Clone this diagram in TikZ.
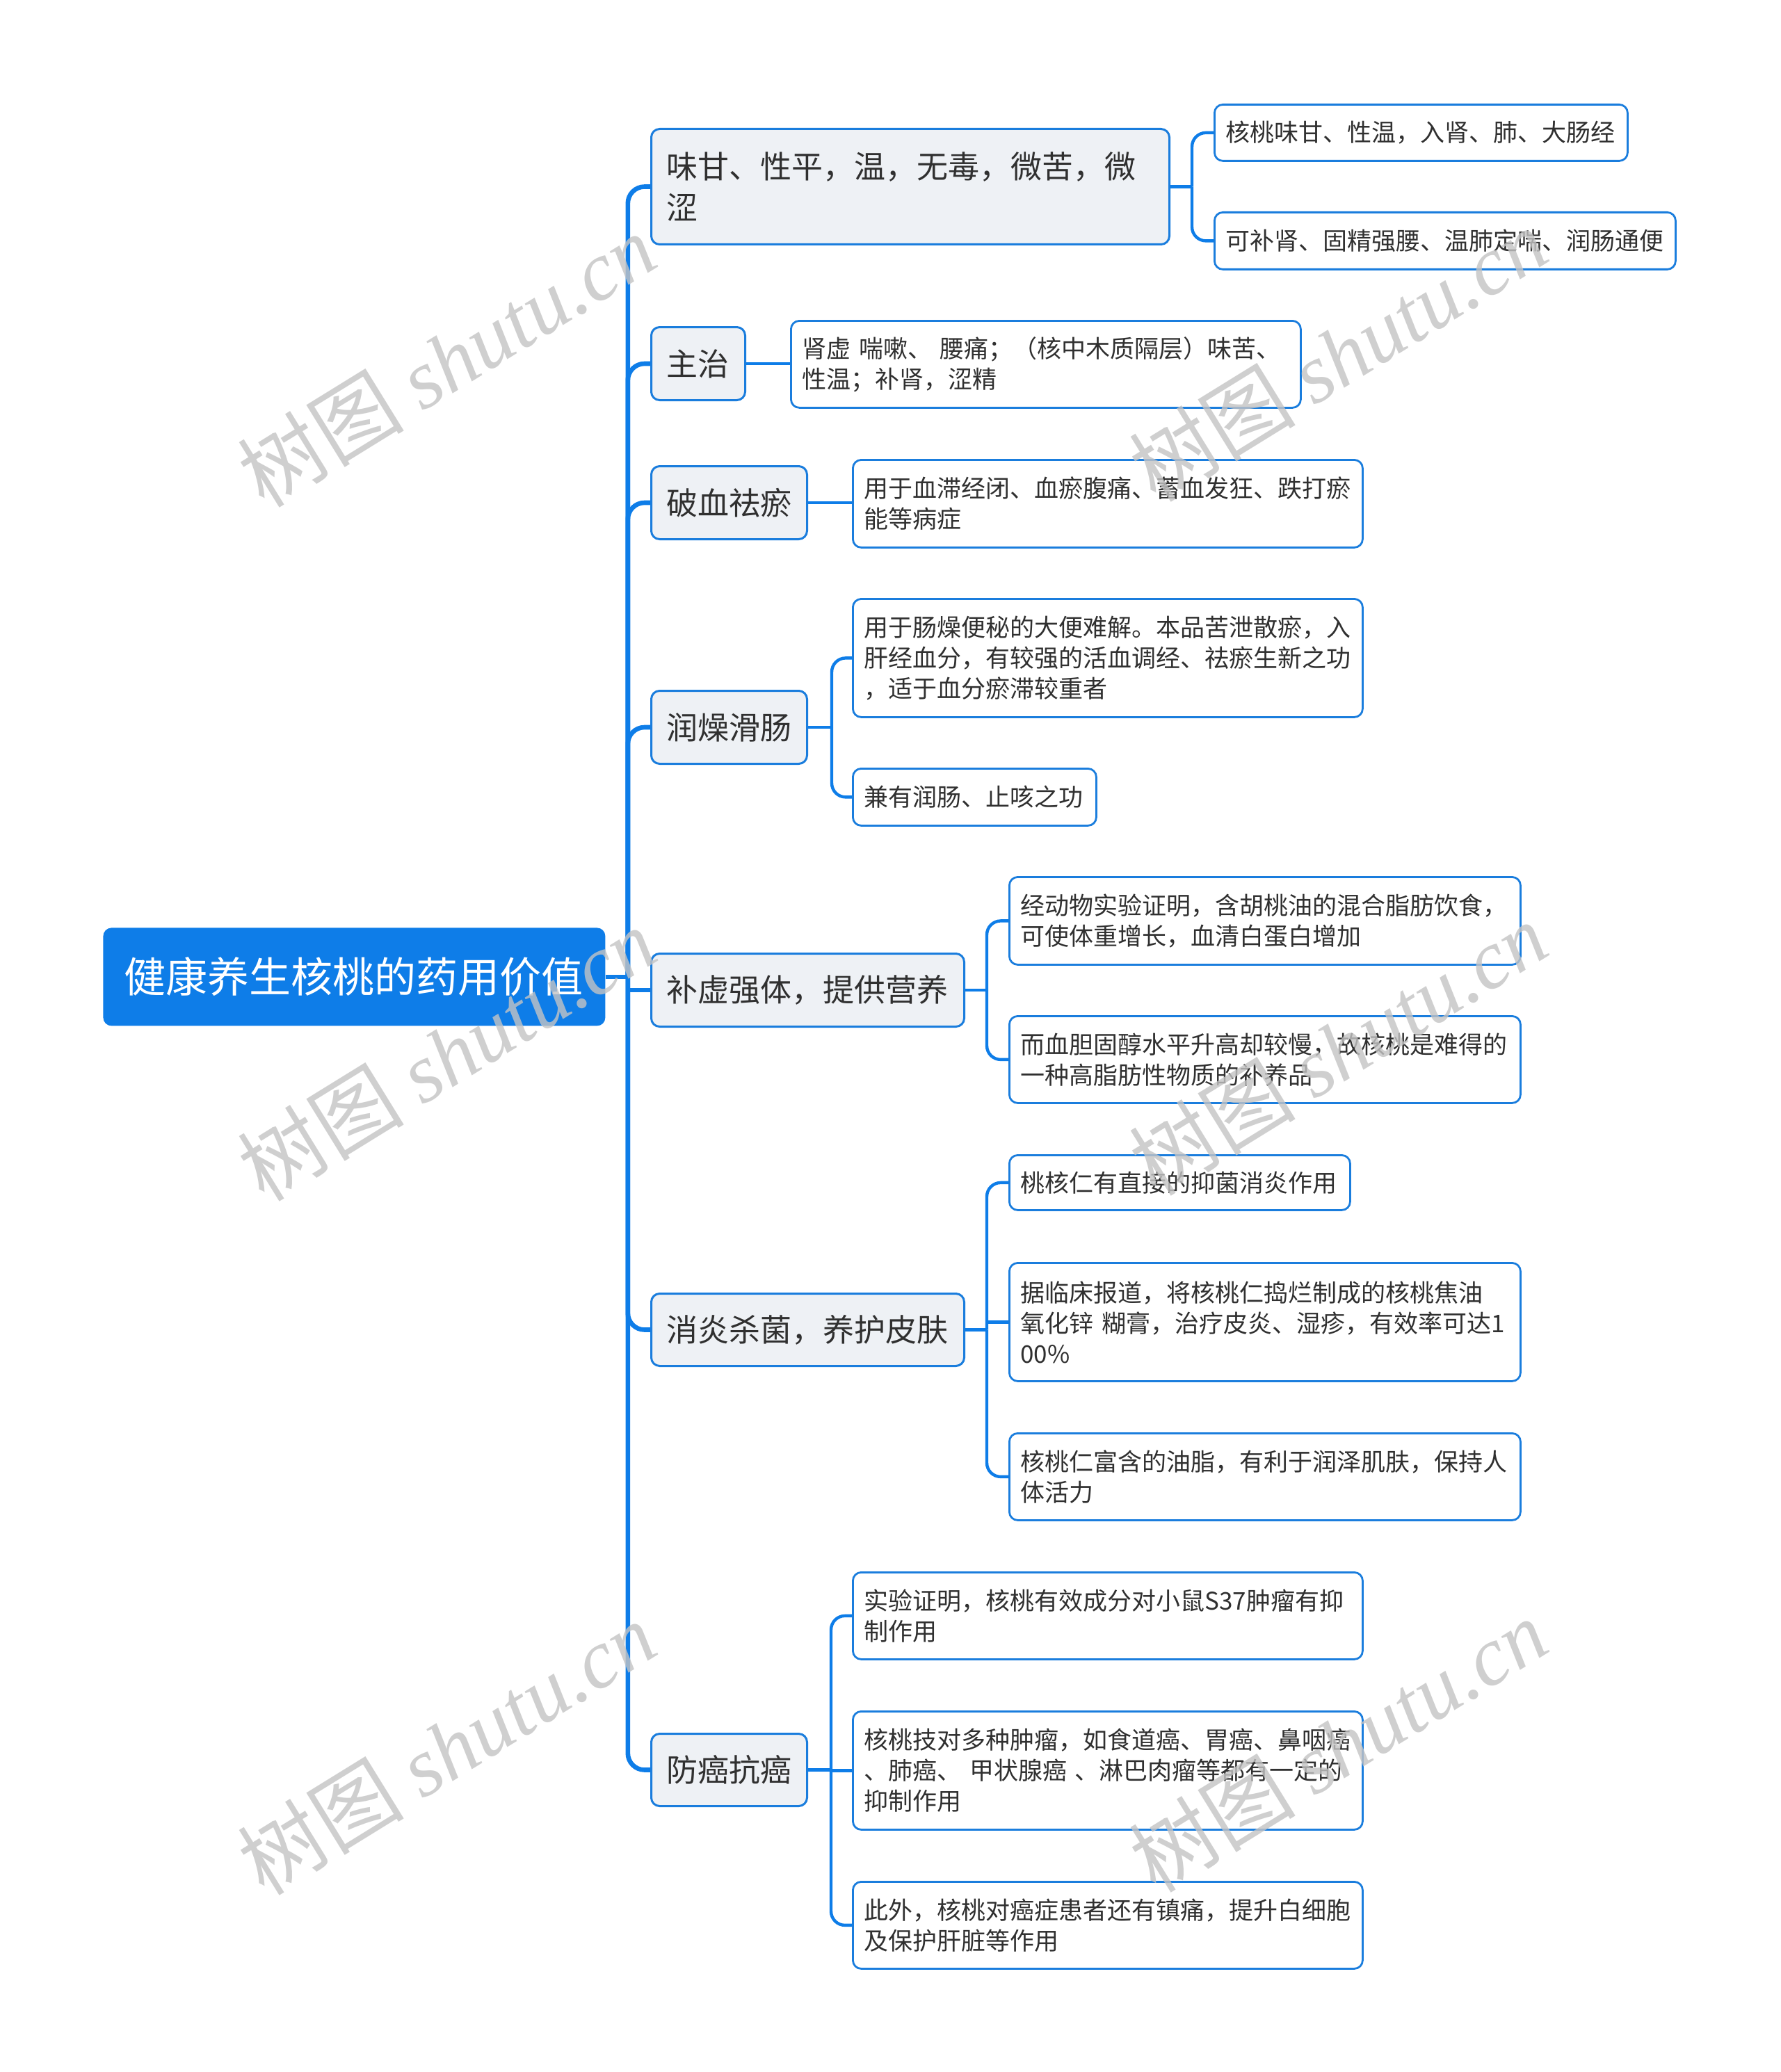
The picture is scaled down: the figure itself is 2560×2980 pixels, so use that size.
\documentclass[tikz,border=0pt]{standalone}
\usepackage{fontspec}
\setmainfont{Noto Sans CJK SC}
\newfontfamily\wmcjk{Noto Sans CJK SC}
\newfontfamily\wmlat{Liberation Serif}
\usetikzlibrary{calc}
\definecolor{mainblue}{HTML}{0E7DE8}
\definecolor{lineblue}{HTML}{1A7DDD}
\definecolor{lvfill}{HTML}{EEF1F5}
\definecolor{txtc}{HTML}{303030}
\definecolor{wmgray}{HTML}{C4C4C4}
\newcommand\boxnode[8]{%
  \pgfmathsetmacro\bw{(#5-#3)*0.5}%
  \pgfmathsetmacro\bh{(#6-#4)*0.5}%
  \pgfmathsetmacro\tw{\bw-2*#7}%
  \node[#1, anchor=north west, inner xsep=#7pt, inner ysep=0pt, minimum width=\bw pt, minimum height=\bh pt, text width=\tw pt] (#2) at (#3,#4) {#8};%
}
\tikzset{
  rootbox/.style={fill=mainblue, draw=none, rounded corners=6pt, text=white, font=\fontsize{30pt}{36pt}\selectfont, align=left},
  lvone/.style={fill=lvfill, draw=lineblue, line width=1.5pt, rounded corners=6pt, text=txtc, font=\fontsize{22.5pt}{29.5pt}\selectfont, align=left},
  lvtwo/.style={fill=white, draw=lineblue, line width=1.4pt, rounded corners=6pt, text=txtc, font=\fontsize{17.5pt}{22pt}\selectfont, align=left},
  trunk/.style={draw=mainblue, line width=3.3pt},
  twig/.style={draw=mainblue, line width=2.2pt},
  wmark/.style={text=wmgray, text opacity=0.8, rotate=31.7, inner sep=0pt, font=\fontsize{60pt}{60pt}\selectfont}
}
\begin{document}
\begin{tikzpicture}[x=0.5pt, y=-0.5pt]
\useasboundingbox (0,0) rectangle (2560,2980);
\fill[white] (0,0) rectangle (2560,2980);

% root
\boxnode{rootbox}{root}{148}{1334}{870}{1475}{15}{健康养生核桃的药用价值}

% level one
\boxnode{lvone}{n1}{935}{184}{1680}{350}{11}{味甘、性平，温，无毒，微苦，微\\涩}
\boxnode{lvone}{n2}{935}{469}{1070}{574}{11}{主治}
\boxnode{lvone}{n3}{935}{669}{1159}{774}{11}{破血祛瘀}
\boxnode{lvone}{n4}{935}{992}{1159}{1097}{11}{润燥滑肠}
\boxnode{lvone}{n5}{935}{1370}{1385}{1475}{11}{补虚强体，提供营养}
\boxnode{lvone}{n6}{935}{1859}{1385}{1963}{11}{消炎杀菌，养护皮肤}
\boxnode{lvone}{n7}{935}{2492}{1159}{2596}{11}{防癌抗癌}

% level two
\boxnode{lvtwo}{a1}{1745}{149}{2339}{230}{8}{核桃味甘、性温，入肾、肺、大肠经}
\boxnode{lvtwo}{a2}{1745}{304}{2408}{386}{8}{可补肾、固精强腰、温肺定喘、润肠通便}
\boxnode{lvtwo}{b1}{1136}{460}{1869}{585}{8}{肾虚~喘嗽、~腰痛；（核中木质隔层）味苦、\\性温；补肾，涩精}
\boxnode{lvtwo}{c1}{1225}{660}{1958}{786}{8}{用于血滞经闭、血瘀腹痛、蓄血发狂、跌打瘀\\能等病症}
\boxnode{lvtwo}{d1}{1225}{860}{1958}{1030}{8}{用于肠燥便秘的大便难解。本品苦泄散瘀，入\\肝经血分，有较强的活血调经、祛瘀生新之功\\，适于血分瘀滞较重者}
\boxnode{lvtwo}{d2}{1225}{1104}{1575}{1186}{8}{兼有润肠、止咳之功}
\boxnode{lvtwo}{e1}{1450}{1260}{2185}{1386}{8}{经动物实验证明，含胡桃油的混合脂肪饮食，\\可使体重增长，血清白蛋白增加}
\boxnode{lvtwo}{e2}{1450}{1460}{2185}{1585}{8}{而血胆固醇水平升高却较慢，故核桃是难得的\\一种高脂肪性物质的补养品}
\boxnode{lvtwo}{f1}{1450}{1660}{1940}{1739}{8}{桃核仁有直接的抑菌消炎作用}
\boxnode{lvtwo}{f2}{1450}{1815}{2185}{1985}{8}{据临床报道，将核桃仁捣烂制成的核桃焦油\\氧化锌~糊膏，治疗皮炎、湿疹，有效率可达1\\00\%}
\boxnode{lvtwo}{f3}{1450}{2060}{2185}{2185}{8}{核桃仁富含的油脂，有利于润泽肌肤，保持人\\体活力}
\boxnode{lvtwo}{g1}{1225}{2260}{1958}{2385}{8}{实验证明，核桃有效成分对小鼠S37肿瘤有抑\\制作用}
\boxnode{lvtwo}{g2}{1225}{2460}{1958}{2630}{8}{核桃技对多种肿瘤，如食道癌、胃癌、鼻咽癌\\、肺癌、~甲状腺癌~、淋巴肉瘤等都有一定的\\抑制作用}
\boxnode{lvtwo}{g3}{1225}{2705}{1958}{2830}{8}{此外，核桃对癌症患者还有镇痛，提升白细胞\\及保护肝脏等作用}

% trunk connectors
\coordinate (sp) at ([xshift=16pt]root.east);
\draw[trunk] (root.east) -- (sp);
\foreach \c in {n1,n2,n3,n4,n6,n7}{
  \draw[trunk, rounded corners=12pt] (sp) |- (\c.west);
}
\draw[trunk] (n5.west -| sp) -- (n5.west);

% branch connectors
\coordinate (s1) at ([xshift=15.5pt]n1.east);
\draw[twig] (n1.east) -- (s1);
\draw[twig, rounded corners=10pt] (s1) |- (a1.west);
\draw[twig, rounded corners=10pt] (s1) |- (a2.west);

\draw[twig] (n2.east) -- (n2.east -| b1.west);
\draw[twig] (n3.east) -- (n3.east -| c1.west);

\coordinate (s4) at ([xshift=17pt]n4.east);
\draw[twig] (n4.east) -- (s4);
\draw[twig, rounded corners=10pt] (s4) |- (d1.west);
\draw[twig, rounded corners=10pt] (s4) |- (d2.west);

\coordinate (s5) at ([xshift=15.5pt]n5.east);
\draw[twig] (n5.east) -- (s5);
\draw[twig, rounded corners=10pt] (s5) |- (e1.west);
\draw[twig, rounded corners=10pt] (s5) |- (e2.west);

\coordinate (s6) at ([xshift=15.5pt]n6.east);
\draw[twig] (n6.east) -- (s6);
\draw[twig, rounded corners=10pt] (s6) |- (f1.west);
\draw[twig] (f2.west -| s6) -- (f2.west);
\draw[twig, rounded corners=10pt] (s6) |- (f3.west);

\coordinate (s7) at ([xshift=16.5pt]n7.east);
\draw[twig] (n7.east) -- (s7);
\draw[twig, rounded corners=10pt] (s7) |- (g1.west);
\draw[twig] (g2.west -| s7) -- (g2.west);
\draw[twig, rounded corners=10pt] (s7) |- (g3.west);

% watermarks
\node[wmark] (w1) at (642,518) {{\wmcjk 树图}~{\wmlat\itshape shutu.cn}};
\node[wmark] (w2) at (1924,510) {{\wmcjk 树图}~{\wmlat\itshape shutu.cn}};
\node[wmark] (w3) at (642,1516) {{\wmcjk 树图}~{\wmlat\itshape shutu.cn}};
\node[wmark] (w4) at (1924,1508) {{\wmcjk 树图}~{\wmlat\itshape shutu.cn}};
\node[wmark] (w5) at (642,2514) {{\wmcjk 树图}~{\wmlat\itshape shutu.cn}};
\node[wmark] (w6) at (1924,2510) {{\wmcjk 树图}~{\wmlat\itshape shutu.cn}};
\end{tikzpicture}
\end{document}
